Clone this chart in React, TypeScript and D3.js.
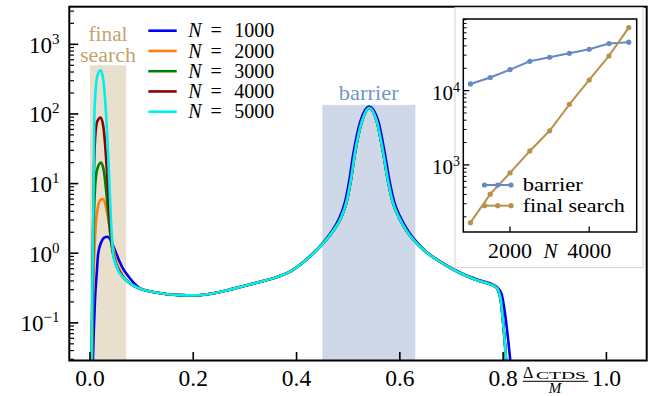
import React from 'react';
import * as d3 from 'd3';

// ---------- data ----------
const seriesLabels = ['1000', '2000', '3000', '4000', '5000'];
const seriesColors = ['#0000ff', '#ff7f0e', '#008000', '#8b0000', '#00f0f0'];

// final-search peak region, per series
const peakX1000 = [0.005, 0.0075, 0.0097, 0.013, 0.016, 0.022, 0.028, 0.034, 0.04, 0.048, 0.056, 0.064, 0.075, 0.09];
const peakY1000 = [0.02, 0.08, 0.21, 0.5, 1.0, 1.45, 1.68, 1.72, 1.55, 1.12, 0.8, 0.6, 0.46, 0.345];
const peakX2000 = [0.0035, 0.005, 0.007, 0.009, 0.012, 0.016, 0.02, 0.025, 0.03, 0.035, 0.04, 0.045, 0.05, 0.058, 0.07];
const peakY2000 = [0.02, 0.1, 0.5, 1.3, 3, 4.8, 5.8, 6.0, 5.0, 3.2, 1.9, 1.2, 0.8, 0.57, 0.41];
const peakX3000 = [0.0032, 0.0045, 0.006, 0.0075, 0.01, 0.014, 0.0213, 0.027, 0.032, 0.037, 0.042, 0.047, 0.053, 0.06, 0.07];
const peakY3000 = [0.02, 0.12, 0.8, 3, 9, 16, 20, 15, 7, 2.8, 1.3, 0.85, 0.62, 0.5, 0.41];
const peakX4000 = [0.0031, 0.0045, 0.006, 0.0075, 0.01, 0.014, 0.0207, 0.026, 0.031, 0.035, 0.039, 0.043, 0.048, 0.055, 0.062, 0.07];
const peakY4000 = [0.02, 0.2, 2, 12, 45, 78, 89, 65, 25, 8, 2.6, 1.2, 0.78, 0.58, 0.48, 0.41];
const peakX5000 = [0.003, 0.005, 0.0064, 0.0083, 0.011, 0.015, 0.0207, 0.025, 0.029, 0.033, 0.037, 0.041, 0.045, 0.05, 0.055, 0.062, 0.07];
const peakY5000 = [0.025, 0.6, 3, 80, 220, 370, 424, 340, 175, 58, 13, 2.7, 0.95, 0.7, 0.56, 0.47, 0.41];

// shared continuation (N = 2000 ... 5000)
const tailX = [0.085, 0.1, 0.125, 0.15, 0.175, 0.2, 0.225, 0.25, 0.275, 0.3, 0.33, 0.36, 0.39, 0.42, 0.45, 0.47, 0.485, 0.497, 0.505, 0.513, 0.527, 0.5406, 0.555, 0.568, 0.577, 0.586, 0.598, 0.612, 0.63, 0.65, 0.677, 0.7, 0.729, 0.75, 0.774, 0.787, 0.795, 0.8, 0.804, 0.808];
const tailY = [0.34, 0.305, 0.275, 0.258, 0.25, 0.248, 0.256, 0.275, 0.305, 0.34, 0.39, 0.45, 0.56, 0.82, 1.35, 2.05, 3.1, 5.5, 11, 27, 80, 122, 80, 27, 11, 5.5, 3.3, 2.15, 1.45, 1.05, 0.76, 0.6, 0.47, 0.41, 0.36, 0.32, 0.22, 0.1, 0.045, 0.015];
// continuation for N = 1000 (slightly wider barrier, later drop)
const tailX1000 = [0.1, 0.125, 0.15, 0.175, 0.2, 0.225, 0.25, 0.275, 0.3, 0.33, 0.36, 0.39, 0.42, 0.45, 0.468, 0.482, 0.494, 0.502, 0.51, 0.524, 0.5406, 0.558, 0.571, 0.58, 0.589, 0.601, 0.615, 0.632, 0.65, 0.677, 0.7, 0.729, 0.75, 0.774, 0.787, 0.797, 0.804, 0.81, 0.816];
const tailY1000 = [0.305, 0.275, 0.258, 0.25, 0.248, 0.256, 0.275, 0.305, 0.34, 0.39, 0.45, 0.56, 0.83, 1.38, 2.05, 3.1, 5.5, 11, 27, 80, 128, 80, 27, 11, 5.5, 3.3, 2.15, 1.47, 1.07, 0.77, 0.61, 0.48, 0.42, 0.37, 0.33, 0.26, 0.13, 0.055, 0.02];

const xTicks = [0, 0.2, 0.4, 0.6, 0.8, 1.0];
const xTickLabels = ['0.0', '0.2', '0.4', '0.6', '0.8', '1.0'];
const yDecades = [-1, 0, 1, 2, 3];

// bands
const bandFinalSearch = [0, 0.07, 500];
const bandBarrier = [0.45, 0.63, 135];

// inset
const insetN = [1000, 1500, 2000, 2500, 3000, 3500, 4000, 4500, 5000];
const insetBarrier = [12300, 15000, 19200, 24800, 28100, 31800, 36000, 43000, 44800];
const insetFinal = [167, 404, 780, 1540, 2880, 6530, 13900, 29300, 70500];
const insetXTicks = [2000, 4000];
const insetYDecades = [3, 4];

const C_BARRIER = '#6688c4';
const C_FINAL = '#b8914c';

const FONT = "'Liberation Serif', 'Times New Roman', Times, 'DejaVu Serif', serif";

function T(props: any) {
  const { children, style, ...rest } = props;
  return (
    <text {...rest} style={{ fontFamily: FONT, ...(style || {}) }}>
      {children}
    </text>
  );
}

export default function App() {
  const W = 649, H = 396;
  const L = 69.3, R = 646.7, Tp = 6.7, B = 360.5;
  const x = d3.scaleLinear().domain([-0.04, 1.078]).range([L, R]);
  const y = d3.scaleLog().domain([0.0288, 3470]).range([B, Tp]);

  const peaksX = [peakX1000, peakX2000, peakX3000, peakX4000, peakX5000];
  const peaksY = [peakY1000, peakY2000, peakY3000, peakY4000, peakY5000];

  const line = d3
    .line<[number, number]>()
    .x((d) => x(d[0]))
    .y((d) => y(Math.max(d[1], 1e-4)))
    .curve(d3.curveMonotoneX);

  const seriesPaths = seriesLabels.map((_, i) => {
    const tx = i === 0 ? tailX1000 : tailX;
    const ty = i === 0 ? tailY1000 : tailY;
    const pts: [number, number][] = [];
    peaksX[i].forEach((v, k) => pts.push([v, peaksY[i][k]]));
    tx.forEach((v, k) => pts.push([v, ty[k]]));
    return line(pts) || '';
  });

  const minorY: number[] = [];
  for (let e = -2; e <= 3; e++) {
    for (let m = 2; m <= 9; m++) {
      const v = m * Math.pow(10, e);
      if (v >= 0.0288 && v <= 3470) minorY.push(v);
    }
  }

  const iL = 463.3, iR = 636.7, iT = 19, iB = 232;
  const ix = d3.scaleLinear().domain([820, 5200]).range([iL, iR]);
  const iy = d3.scaleLog().domain([125, 92000]).range([iB, iT]);
  const iline = d3
    .line<[number, number]>()
    .x((d) => ix(d[0]))
    .y((d) => iy(d[1]));
  const barrierPts: [number, number][] = insetN.map((n, k) => [n, insetBarrier[k]]);
  const finalPts: [number, number][] = insetN.map((n, k) => [n, insetFinal[k]]);
  const iMinor: number[] = [];
  for (let e = 2; e <= 4; e++) {
    for (let m = 2; m <= 9; m++) {
      const v = m * Math.pow(10, e);
      if (v >= 125 && v <= 92000) iMinor.push(v);
    }
  }

  const legendY0 = 30.7, legendDy = 20.25;

  return (
    <svg
      width={W}
      height={H}
      style={{ position: 'absolute', left: 0, top: 0, background: '#fff', fontFamily: FONT }}
    >
      <defs>
        <clipPath id="plotClip">
          <rect x={L} y={Tp} width={R - L} height={B - Tp} />
        </clipPath>
      </defs>
      <rect x={0} y={0} width={W} height={H} fill="#fff" />

      {/* bands */}
      <rect
        x={x(bandFinalSearch[0])}
        y={y(bandFinalSearch[2])}
        width={x(bandFinalSearch[1]) - x(bandFinalSearch[0])}
        height={B - y(bandFinalSearch[2])}
        fill="#e8dfcd"
      />
      <rect
        x={x(bandBarrier[0])}
        y={y(bandBarrier[2])}
        width={x(bandBarrier[1]) - x(bandBarrier[0])}
        height={B - y(bandBarrier[2])}
        fill="#cfd8e8"
      />
      <T x={x(0.035)} y={41} fontSize={20} fill="#c2a36e" textAnchor="middle" textLength={39} lengthAdjust="spacingAndGlyphs">final</T>
      <T x={x(0.035)} y={61.5} fontSize={20} fill="#c2a36e" textAnchor="middle" textLength={56} lengthAdjust="spacingAndGlyphs">search</T>
      <T x={x(0.54)} y={100} fontSize={21} fill="#7494ca" textAnchor="middle" textLength={60} lengthAdjust="spacingAndGlyphs">barrier</T>

      {/* curves */}
      <g clipPath="url(#plotClip)">
        {seriesPaths.map((p, i) => (
          <path key={i} d={p} fill="none" stroke={seriesColors[i]} strokeWidth={2.6} strokeLinejoin="round" />
        ))}
      </g>

      {/* legend */}
      {seriesLabels.map((lab, i) => {
        const yy = legendY0 + i * legendDy;
        return (
          <g key={lab}>
            <line x1={148.3} x2={176.7} y1={yy} y2={yy} stroke={seriesColors[i]} strokeWidth={2.6} />
            <T x={188.3} y={yy + 6.7} fontSize={20}>
              <tspan fontStyle="italic">N</tspan>
              <tspan x={210.5}>=</tspan>
              <tspan x={234.3}>{lab}</tspan>
            </T>
          </g>
        );
      })}

      {/* axes frame */}
      <rect x={L} y={Tp} width={R - L} height={B - Tp} fill="none" stroke="#000" strokeWidth={2} />

      {/* x ticks */}
      {xTicks.map((t, i) => (
        <g key={t}>
          <line x1={x(t)} x2={x(t)} y1={B} y2={B - 8.5} stroke="#000" strokeWidth={1.6} />
          <T x={x(t)} y={386} fontSize={23.5} textAnchor="middle">{xTickLabels[i]}</T>
        </g>
      ))}
      {/* x label fraction */}
      <T x={523} y={377.5} fontSize={16}>Δ</T>
      <T x={536} y={378.5} fontSize={9.5} textLength={50} lengthAdjust="spacingAndGlyphs">CTDS</T>
      <line x1={522.7} x2={588.3} y1={381.3} y2={381.3} stroke="#000" strokeWidth={1} />
      <T x={555} y={393} fontSize={15} fontStyle="italic" textAnchor="middle">M</T>

      {/* y ticks */}
      {yDecades.map((e) => {
        const v = Math.pow(10, e);
        const yy = y(v);
        return (
          <g key={e}>
            <line x1={L} x2={L + 9} y1={yy} y2={yy} stroke="#000" strokeWidth={1.6} />
            <T x={59.5} y={yy + 8.3} fontSize={23} textAnchor="end">
              10
              <tspan fontSize={15} dy={-9}>{e < 0 ? '\u2212' + Math.abs(e) : String(e)}</tspan>
            </T>
          </g>
        );
      })}
      {minorY.map((v) => (
        <line key={v} x1={L} x2={L + 4.7} y1={y(v)} y2={y(v)} stroke="#000" strokeWidth={1.2} />
      ))}

      {/* inset */}
      <rect x={455} y={Tp + 1} width={188} height={260} fill="#fff" stroke="#d4d4d4" strokeWidth={1} />
      <path d={iline(barrierPts) || ''} fill="none" stroke={C_BARRIER} strokeWidth={2} />
      <path d={iline(finalPts) || ''} fill="none" stroke={C_FINAL} strokeWidth={2} />
      {barrierPts.map((p, k) => (
        <circle key={'b' + k} cx={ix(p[0])} cy={iy(p[1])} r={2.6} fill={C_BARRIER} />
      ))}
      {finalPts.map((p, k) => (
        <circle key={'f' + k} cx={ix(p[0])} cy={iy(p[1])} r={2.6} fill={C_FINAL} />
      ))}
      <rect x={iL} y={iT} width={iR - iL} height={iB - iT} fill="none" stroke="#000" strokeWidth={1.5} />
      {insetXTicks.map((t) => (
        <g key={t}>
          <line x1={ix(t)} x2={ix(t)} y1={iB} y2={iB - 5.5} stroke="#000" strokeWidth={1.3} />
          <T x={ix(t)} y={258.3} fontSize={22} textAnchor="middle">{t}</T>
        </g>
      ))}
      <T x={550.5} y={258.3} fontSize={21} fontStyle="italic" textAnchor="middle">N</T>
      {insetYDecades.map((e) => {
        const yy = iy(Math.pow(10, e));
        return (
          <g key={e}>
            <line x1={iL} x2={iL + 6} y1={yy} y2={yy} stroke="#000" strokeWidth={1.3} />
            <T x={460} y={yy + 9} fontSize={21} textAnchor="end">
              10
              <tspan fontSize={14} dy={-8}>{String(e)}</tspan>
            </T>
          </g>
        );
      })}
      {iMinor.map((v) => (
        <line key={v} x1={iL} x2={iL + 3.2} y1={iy(v)} y2={iy(v)} stroke="#000" strokeWidth={1} />
      ))}
      {/* inset legend */}
      {[
        { c: C_BARRIER, t: 'barrier', yy: 185, w: 60 },
        { c: C_FINAL, t: 'final search', yy: 205.7, w: 102 },
      ].map((d) => (
        <g key={d.t}>
          <line x1={482.7} x2={512.7} y1={d.yy} y2={d.yy} stroke={d.c} strokeWidth={2} />
          {[484.5, 497.7, 511].map((cx) => (
            <circle key={cx} cx={cx} cy={d.yy} r={2.6} fill={d.c} />
          ))}
          <T x={522.7} y={d.yy + 6} fontSize={19} textLength={d.w} lengthAdjust="spacingAndGlyphs">{d.t}</T>
        </g>
      ))}
    </svg>
  );
}
